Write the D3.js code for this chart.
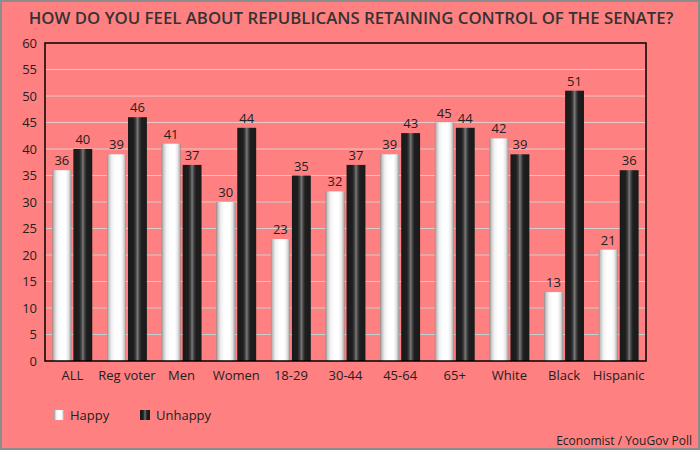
<!DOCTYPE html>
<html>
<head>
<meta charset="utf-8">
<script src="https://cdn.jsdelivr.net/npm/d3@7"></script>
<style>
  body { margin: 0; background: #fff; }
  svg { display: block; font-family: "Open Sans", "Noto Sans", sans-serif; }
</style>
</head>
<body>
<div id="chart"></div>
<script>
var categories = ["ALL", "Reg voter", "Men", "Women", "18-29", "30-44", "45-64", "65+", "White", "Black", "Hispanic"];
var happy = [36, 39, 41, 30, 23, 32, 39, 45, 42, 13, 21];
var unhappy = [40, 46, 37, 44, 35, 37, 43, 44, 39, 51, 36];
var seriesNames = ["Happy", "Unhappy"];
var yTicks = d3.range(0, 61, 5);

var W = 700, H = 450;
var margin = {top: 43, right: 54, bottom: 89, left: 45},
    width = W - margin.left - margin.right,
    height = H - margin.top - margin.bottom;

var svg = d3.select("#chart").append("svg")
    .attr("width", W)
    .attr("height", H);

// background + outer frame
svg.append("rect")
    .attr("x", 1).attr("y", 1)
    .attr("width", W - 2).attr("height", H - 2)
    .attr("fill", "#ff8080")
    .attr("stroke", "#8c8c8c")
    .attr("stroke-width", 2);

// gradients for the cylinder look
var defs = svg.append("defs");
var gHappy = defs.append("linearGradient").attr("id", "gHappy");
[[0, "#8c8c8c"], [0.1, "#c8c8c8"], [0.25, "#f2f2f2"], [0.45, "#ffffff"], [0.7, "#ffffff"], [0.85, "#e6e6e6"], [0.95, "#b8b8b8"], [1, "#8c8c8c"]]
    .forEach(function(s) { gHappy.append("stop").attr("offset", s[0]).attr("stop-color", s[1]); });
var gUnhappy = defs.append("linearGradient").attr("id", "gUnhappy");
[[0, "#1a1a1a"], [0.3, "#1e1e1e"], [0.42, "#444"], [0.5, "#7a7a7a"], [0.58, "#4a4a4a"], [0.7, "#1e1e1e"], [1, "#1a1a1a"]]
    .forEach(function(s) { gUnhappy.append("stop").attr("offset", s[0]).attr("stop-color", s[1]); });
var fills = ["url(#gHappy)", "url(#gUnhappy)"];

// title
svg.append("text")
    .attr("x", 351).attr("y", 24)
    .attr("text-anchor", "middle")
    .attr("font-size", "16.8px")
    .attr("font-weight", "600")
    .attr("fill", "#333")
    .text("HOW DO YOU FEEL ABOUT REPUBLICANS RETAINING CONTROL OF THE SENATE?");

var g = svg.append("g")
    .attr("transform", "translate(" + margin.left + "," + margin.top + ")");

var x = d3.scaleBand()
    .domain(categories)
    .range([0, width])
    .paddingInner(0.27)
    .paddingOuter(0.135);

var x1 = d3.scaleBand()
    .domain(seriesNames)
    .range([0, x.bandwidth()])
    .paddingInner(0.1);

var y = d3.scaleLinear()
    .domain([0, 60])
    .range([height, 0]);

var gridColor = d3.interpolateRgb("#f4c8c8", "#bcd0d0");

// gridlines
g.append("g").selectAll("line")
    .data(yTicks.filter(function(d) { return d > 0 && d < 60; }))
    .enter().append("line")
    .attr("x1", 0).attr("x2", width)
    .attr("y1", function(d) { return y(d); })
    .attr("y2", function(d) { return y(d); })
    .attr("stroke", function(d) { return gridColor(1 - d / 60); })
    .attr("stroke-width", 1);

var data = categories.map(function(c, i) {
    return {cat: c, vals: [happy[i], unhappy[i]]};
});

var groups = g.append("g").selectAll("g")
    .data(data)
    .enter().append("g")
    .attr("transform", function(d) { return "translate(" + x(d.cat) + ",0)"; });

groups.selectAll("rect")
    .data(function(d) { return d.vals.map(function(v, i) { return {s: seriesNames[i], v: v, i: i}; }); })
    .enter().append("rect")
    .attr("x", function(d) { return x1(d.s); })
    .attr("width", x1.bandwidth())
    .attr("y", function(d) { return y(d.v); })
    .attr("height", function(d) { return height - y(d.v); })
    .attr("fill", function(d) { return fills[d.i]; });

groups.selectAll("text")
    .data(function(d) { return d.vals.map(function(v, i) { return {s: seriesNames[i], v: v}; }); })
    .enter().append("text")
    .attr("x", function(d) { return x1(d.s) + x1.bandwidth() / 2; })
    .attr("y", function(d) { return y(d.v) - 5; })
    .attr("text-anchor", "middle")
    .attr("font-size", "13px")
    .attr("fill", "#222")
    .text(function(d) { return d.v; });

// plot frame
g.append("rect")
    .attr("width", width).attr("height", height)
    .attr("fill", "none")
    .attr("stroke", "#000")
    .attr("stroke-width", 1.5);

// axes
var yAxis = g.append("g")
    .call(d3.axisLeft(y).tickValues(yTicks).tickSize(0).tickPadding(8));
yAxis.select(".domain").remove();
yAxis.selectAll("text")
    .attr("font-size", "13px")
    .attr("font-family", "Open Sans, sans-serif")
    .attr("fill", "#222");

var xAxis = g.append("g")
    .attr("transform", "translate(0," + height + ")")
    .call(d3.axisBottom(x).tickSize(0).tickPadding(10));
xAxis.select(".domain").remove();
xAxis.selectAll("text")
    .attr("font-size", "13px")
    .attr("font-family", "Open Sans, sans-serif")
    .attr("fill", "#222");

// legend
var legend = svg.append("g").attr("transform", "translate(54,410)");
var items = legend.selectAll("g")
    .data(seriesNames)
    .enter().append("g")
    .attr("transform", function(d, i) { return "translate(" + (i * 86) + ",0)"; });
items.append("rect")
    .attr("width", 10).attr("height", 10)
    .attr("fill", function(d, i) { return fills[i]; });
items.append("text")
    .attr("x", 16).attr("y", 9.5)
    .attr("font-size", "13px")
    .attr("fill", "#222")
    .text(function(d) { return d; });

// source
svg.append("text")
    .attr("x", 692).attr("y", 445)
    .attr("text-anchor", "end")
    .attr("font-size", "12px")
    .attr("fill", "#222")
    .text("Economist / YouGov Poll");
</script>
</body>
</html>
